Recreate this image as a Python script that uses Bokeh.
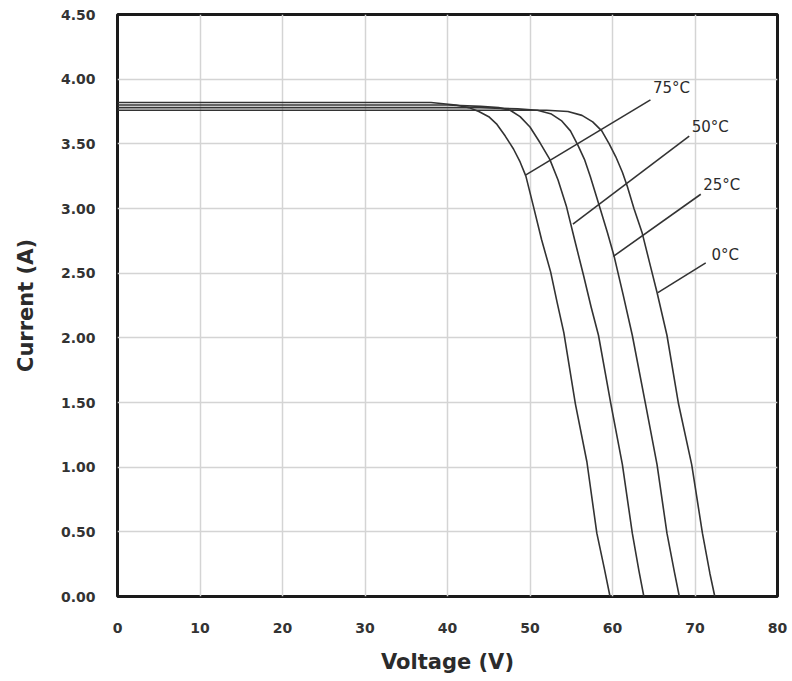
from bokeh.plotting import figure
from bokeh.models import Range1d, FixedTicker, NumeralTickFormatter, ColumnDataSource
from bokeh.core.properties import value
from bokeh.embed import file_html
from bokeh.resources import INLINE

# I-V curves (voltage V, current A)
v_75 = [0, 38, 41, 42.6, 43.8, 45.0, 46.0, 47.0, 48.0, 48.8, 49.5, 50.4, 51.4, 52.5, 53.3, 54.1, 55.5, 56.9, 58.1, 59.0, 59.7]
i_75 = [3.82, 3.82, 3.80, 3.78, 3.75, 3.71, 3.65, 3.56, 3.46, 3.36, 3.25, 3.02, 2.76, 2.51, 2.27, 2.04, 1.49, 1.04, 0.49, 0.22, 0.0]

v_50 = [0, 40, 44, 46.2, 47.6, 48.8, 50.0, 51.2, 52.4, 53.4, 54.4, 55.4, 56.5, 57.4, 58.3, 59.8, 61.2, 62.4, 63.2, 63.8]
i_50 = [3.80, 3.80, 3.79, 3.78, 3.76, 3.71, 3.63, 3.51, 3.38, 3.22, 3.02, 2.76, 2.48, 2.24, 2.02, 1.49, 1.02, 0.49, 0.20, 0.0]

v_25 = [0, 44, 48.5, 50.9, 52.6, 53.8, 54.9, 55.8, 56.6, 57.3, 58.5, 59.4, 60.2, 61.3, 62.4, 64.0, 65.4, 66.6, 67.5, 68.1]
i_25 = [3.78, 3.78, 3.77, 3.76, 3.73, 3.68, 3.60, 3.49, 3.38, 3.25, 3.00, 2.81, 2.63, 2.33, 2.02, 1.49, 1.02, 0.49, 0.19, 0.0]

v_0 = [0, 46, 52, 54.6, 56.3, 57.6, 58.7, 59.6, 60.4, 61.2, 61.8, 62.6, 63.6, 64.5, 65.4, 66.6, 68.0, 69.6, 70.9, 71.8, 72.4]
i_0 = [3.76, 3.76, 3.76, 3.75, 3.72, 3.67, 3.60, 3.50, 3.40, 3.28, 3.17, 3.00, 2.81, 2.58, 2.35, 2.02, 1.49, 1.02, 0.49, 0.18, 0.0]

series_labels = ["75°C", "50°C", "25°C", "0°C"]
x_ticks = [0, 10, 20, 30, 40, 50, 60, 70, 80]
y_ticks = [0, 0.5, 1.0, 1.5, 2.0, 2.5, 3.0, 3.5, 4.0, 4.5]

# leader-line annotation geometry (start on curve -> end near label)
lead_x0 = [49.5, 55.2, 60.1, 65.5]
lead_y0 = [3.26, 2.88, 2.63, 2.35]
lead_x1 = [64.6, 69.3, 70.7, 71.3]
lead_y1 = [3.84, 3.56, 3.11, 2.58]
lab_x = [64.9, 69.6, 71.0, 72.0]
lab_y = [3.93, 3.63, 3.18, 2.64]

FONT = "DejaVu Sans"
DARK = "#2b2b2b"

p = figure(width=790, height=676, output_backend="svg", toolbar_location=None,
           x_range=Range1d(0, 80), y_range=Range1d(0, 4.5),
           min_border_left=117, min_border_right=13, min_border_top=14, min_border_bottom=77)

p.outline_line_color = "#1a1a1a"
p.outline_line_width = 3
p.background_fill_color = "white"

for ax in (p.xaxis, p.yaxis):
    ax.axis_line_color = None
    ax.major_tick_line_color = None
    ax.minor_tick_line_color = None
    ax.major_label_text_font = FONT
    ax.major_label_text_font_style = "bold"
    ax.major_label_text_font_size = "14px"
    ax.major_label_text_color = "#333333"
    ax.axis_label_text_font = FONT
    ax.axis_label_text_font_style = "bold"
    ax.axis_label_text_font_size = "21px"
    ax.axis_label_text_color = DARK

p.xaxis.ticker = FixedTicker(ticks=x_ticks)
p.yaxis.ticker = FixedTicker(ticks=y_ticks)
p.yaxis.formatter = NumeralTickFormatter(format="0.00")
p.xaxis.axis_label = "Voltage (V)"
p.yaxis.axis_label = "Current (A)"
p.xaxis.major_label_standoff = 20
p.yaxis.major_label_standoff = 16
p.xaxis.axis_label_standoff = 14
p.yaxis.axis_label_standoff = 20

p.xgrid.grid_line_color = "#d4d4d4"
p.ygrid.grid_line_color = "#d4d4d4"
p.xgrid.grid_line_width = 1.5
p.ygrid.grid_line_width = 1.5

for vs, cs in ((v_75, i_75), (v_50, i_50), (v_25, i_25), (v_0, i_0)):
    p.line(vs, cs, line_color="#333333", line_width=1.6, line_join="round")

p.segment(x0=lead_x0, y0=lead_y0, x1=lead_x1, y1=lead_y1, line_color="#333333", line_width=1.6)

src = ColumnDataSource(data=dict(x=lab_x, y=lab_y, t=series_labels))
p.text(x="x", y="y", text="t", source=src, text_font=value(FONT), text_font_size="15px",
       text_color=DARK, text_align="left", text_baseline="middle")

open("out.html", "w").write(file_html(p, INLINE))
